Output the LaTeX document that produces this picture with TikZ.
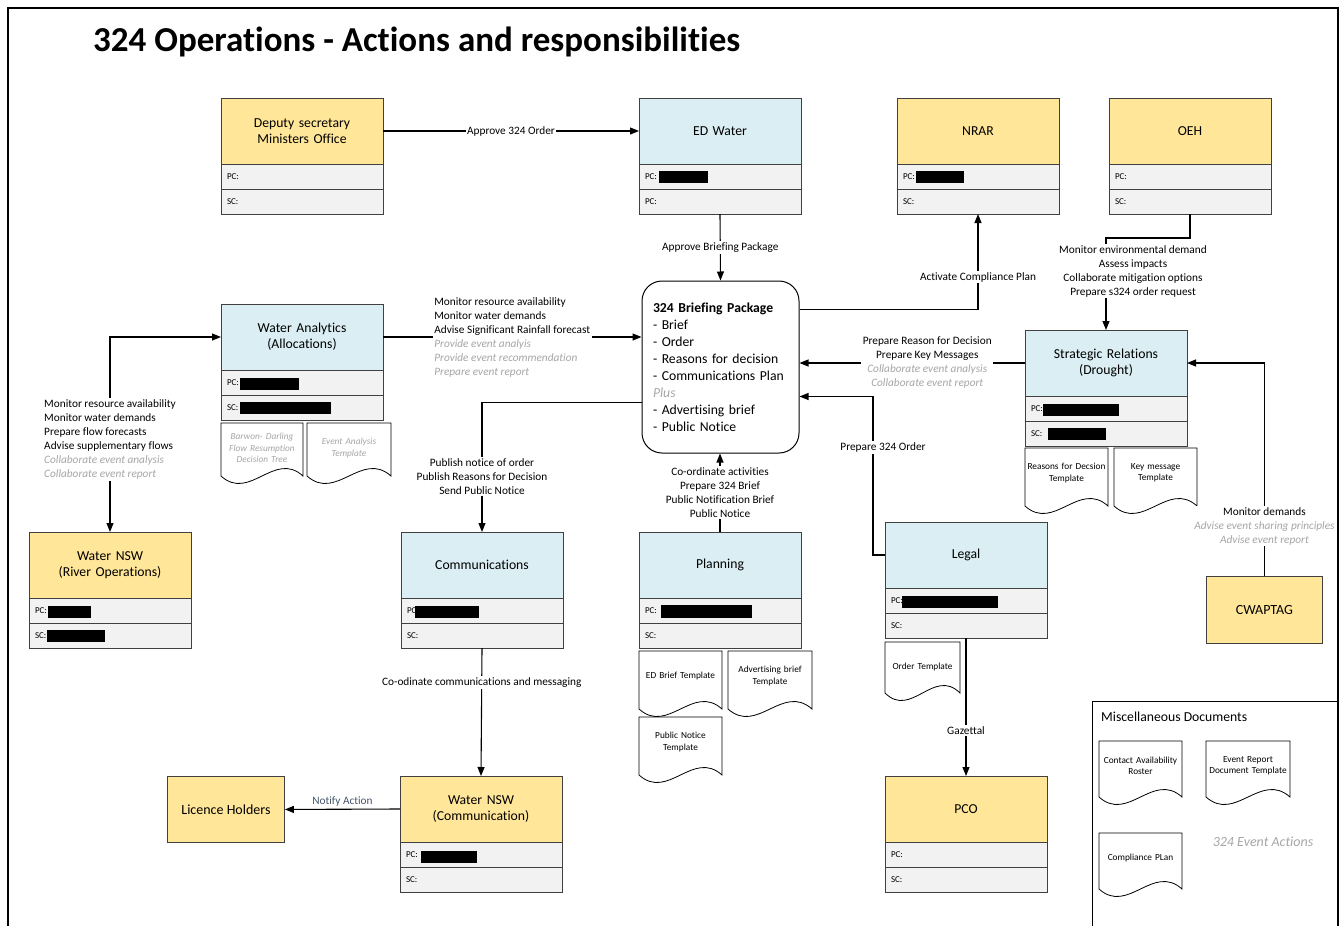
\documentclass[tikz,border=0pt]{standalone}
\usepackage{fontspec}
\setmainfont{Carlito}[Ligatures=NoCommon]
\usetikzlibrary{arrows.meta,positioning}

\definecolor{headyellow}{HTML}{FFE699}
\definecolor{headblue}{HTML}{DAEEF3}
\definecolor{rowgray}{HTML}{F2F2F2}
\definecolor{edgegray}{HTML}{404040}
\definecolor{softgray}{HTML}{A6A6A6}
\definecolor{notecol}{HTML}{44546A}

\newcommand{\soft}[1]{{\color{softgray}\itshape #1}}

\tikzset{
  head/.style={draw=edgegray, line width=0.9pt, outer sep=0pt, inner sep=0pt,
    minimum width=162pt, minimum height=66pt, text width=150pt, align=center,
    font=\fontsize{13.7}{16}\selectfont},
  rowcell/.style={draw=edgegray, fill=rowgray, line width=0.9pt, outer sep=0pt,
    inner xsep=6pt, inner ysep=0pt, minimum width=162pt, minimum height=25pt,
    text width=150pt, align=left, font=\fontsize{9}{10}\selectfont},
  plainbox/.style={draw=edgegray, fill=headyellow, line width=0.9pt, inner sep=0pt,
    minimum height=66pt, align=center, font=\fontsize{14}{16}\selectfont},
  briefbox/.style={draw=black, line width=1pt, rounded corners=20pt, inner sep=0pt,
    minimum width=157pt, minimum height=172pt, text width=135pt, align=left,
    font=\fontsize{13.7}{17}\selectfont},
  arr/.style={line width=1.1pt, -{Triangle[length=9pt,width=7pt]}},
  arrboth/.style={line width=1.1pt, {Triangle[length=9pt,width=7pt]}-{Triangle[length=9pt,width=7pt]}},
  lbl/.style={fill=white, inner sep=1.5pt, align=center, font=\fontsize{11.3}{14}\selectfont},
  docline/.style={draw=black, line width=0.8pt, fill=white},
  doctext/.style={inner sep=0pt, text width=84pt, align=center, font=\fontsize{9.3}{11.5}\selectfont},
  redact/.style={fill=black}
}

% role box: header plus PC / SC rows
\newcommand{\rolebox}[6]{%
  \node[head, fill=#4, anchor=north west] (#1) at (#2,#3) {#5};
  \node[rowcell, anchor=north] (#1-pc) at (#1.south) {PC:};
  \node[rowcell, anchor=north] (#1-sc) at (#1-pc.south) {#6};
}

% document sheet with a wavy foot
\newcommand{\docsheet}[6]{%
  \draw[docline] (#2,#3) -- (#4,#3) -- (#4,#5)
    .. controls ({#4-0.35*(#4-#2)},{#5-26}) and ({#2+0.35*(#4-#2)},{#5+26}) .. (#2,#5) -- cycle;
  \node[doctext] (#1) at ({(#2+#4)/2},{#3+25}) {#6};
}

\begin{document}
\begin{tikzpicture}[x=1pt,y=-1pt]
\useasboundingbox (0,0) rectangle (1344,926);

% frame
\draw[line width=1.3pt] (8,930) -- (8,8) -- (1338,8) -- (1338,930);
\draw[line width=1pt] (1092,930) -- (1092,701) -- (1338,701);

\node[anchor=base west, inner sep=0pt, font=\fontsize{35}{40}\selectfont\bfseries] (title)
  at (93,51) {324 Operations - Actions and responsibilities};

% roles
\rolebox{dep}{221}{98}{headyellow}{Deputy secretary\\Ministers Office}{SC:}
\rolebox{edw}{639}{98}{headblue}{ED Water}{PC:}
\rolebox{nrar}{897}{98}{headyellow}{NRAR}{SC:}
\rolebox{oeh}{1109}{98}{headyellow}{OEH}{SC:}
\rolebox{wa}{221}{304}{headblue}{Water Analytics\\(Allocations)}{SC:}
\rolebox{strat}{1025}{330}{headblue}{Strategic Relations\\(Drought)}{SC:}
\rolebox{wnr}{29}{532}{headyellow}{Water NSW\\(River Operations)}{SC:}
\rolebox{comm}{401}{532}{headblue}{Communications}{SC:}
\rolebox{plan}{639}{532}{headblue}{Planning}{SC:}
\rolebox{legal}{885}{522}{headblue}{Legal}{SC:}
\rolebox{wnc}{400}{776}{headyellow}{Water NSW\\(Communication)}{SC:}
\rolebox{pco}{885}{776}{headyellow}{PCO}{SC:}

\node[plainbox, anchor=north west, minimum width=117pt] (lic) at (167,776) {Licence Holders};
\node[plainbox, anchor=north west, minimum width=116pt, minimum height=67pt] (cwap)
  at (1206,576) {CWAPTAG};

\node[briefbox] (brief) at (720.5,367) {\textbf{324 Briefing Package}\\- Brief\\- Order\\
  - Reasons for decision\\- Communications Plan\\\soft{Plus}\\- Advertising brief\\- Public Notice};

% redacted names
\fill[redact] (659,171) rectangle (708,183);
\fill[redact] (916,171) rectangle (964,183);
\fill[redact] (240,378) rectangle (299,390);
\fill[redact] (240,402) rectangle (331,414);
\fill[redact] (48,606) rectangle (91,618);
\fill[redact] (47,630) rectangle (105,642);
\fill[redact] (1043,404) rectangle (1119,416);
\fill[redact] (1048,428) rectangle (1106,440);
\fill[redact] (415,606) rectangle (479,618);
\fill[redact] (661,605) rectangle (752,618);
\fill[redact] (902,596) rectangle (998,608);
\fill[redact] (421,851) rectangle (477,863);

% templates
\docsheet{bwdt}{221}{423}{303}{476}{\soft{Barwon- Darling\\Flow Resumption\\Decision Tree}}
\docsheet{eat}{307}{423}{391}{476}{\soft{Event Analysis\\Template}}
\docsheet{rfdt}{1025}{448}{1108}{506}{Reasons for Decsion\\Template}
\docsheet{kmt}{1114}{448}{1197}{506}{Key message\\Template}
\docsheet{ordt}{885}{642}{960}{693}{Order Template}
\docsheet{edbt}{639}{651}{722}{709}{ED Brief Template}
\docsheet{adbt}{728}{651}{812}{709}{Advertising brief\\Template}
\docsheet{pnt}{639}{717}{722}{775}{Public Notice\\Template}
\docsheet{car}{1099}{741}{1182}{797}{Contact Availability\\Roster}
\docsheet{erdt}{1206}{741}{1290}{797}{Event Report\\Document Template}
\docsheet{cpl}{1099}{833}{1182}{889}{Compliance PLan}

\node[anchor=base west, inner sep=0pt, font=\fontsize{13.7}{16}\selectfont] (misc)
  at (1101,721) {Miscellaneous Documents};
\node[inner sep=0pt, font=\fontsize{14}{16}\selectfont] (evact)
  at (1263,842) {\soft{324 Event Actions}};

% connectors
\draw[arr] (dep.east) -- node[lbl]{Approve 324 Order} (edw.west);
\draw[arr] (edw-sc.south) -- node[lbl]{Approve Briefing Package} (brief.north);
\draw[arr] ([yshift=-29pt]brief.north east) -| node[lbl, pos=0.67]{Activate Compliance Plan} (nrar-sc.south);
\draw[arr] (oeh-sc.south) -- ++(0,24) -| node[lbl, pos=0.68, xshift=27pt]{Monitor environmental demand\\
  Assess impacts\\Collaborate mitigation options\\Prepare s324 order request} (strat.north);
\draw[arr] (strat.west) -- node[lbl, xshift=15pt]{Prepare Reason for Decision\\Prepare Key Messages\\
  \soft{Collaborate event analysis}\\\soft{Collaborate event report}} (strat.west -| brief.east);
\draw[arr] (legal.west) -- ++(-12,0) |- node[lbl, pos=0.34, xshift=10pt]{Prepare 324 Order}
  ([yshift=-116pt]brief.north east);
\draw[arr] (cwap.north) |- node[lbl, pos=0.117]{Monitor demands\\\soft{Advise event sharing principles}\\
  \soft{Advise event report}} (strat.east);
\draw[arr] (wa.east) -- node[lbl, align=left]{Monitor resource availability\\Monitor water demands\\
  Advise Significant Rainfall forecast\\\soft{Provide event analyis}\\\soft{Provide event recommendation}\\
  \soft{Prepare event report}} (wa.east -| brief.west);
\draw[arrboth] (wnr.north) |- node[lbl, pos=0.238, align=left]{Monitor resource availability\\
  Monitor water demands\\Prepare flow forecasts\\Advise supplementary flows\\
  \soft{Collaborate event analysis}\\\soft{Collaborate event report}} (wa.west);
\draw[arr] ([yshift=-122pt]brief.north west) -| node[lbl, pos=0.787]{Publish notice of order\\
  Publish Reasons for Decision\\Send Public Notice} (comm.north);
\draw[arr] (plan.north) -- node[lbl]{Co-ordinate activities\\Prepare 324 Brief\\
  Public Notification Brief\\Public Notice} (plan.north |- brief.south);
\draw[arr] (comm-sc.south) -- node[lbl, pos=0.27]{Co-odinate communications and messaging} (wnc.north);
\draw[arr] (wnc.west) -- node[above, inner sep=2pt, text=notecol, font=\fontsize{11.3}{13}\selectfont]{Notify Action} (lic.east);
\draw[arr] (legal-sc.south) -- node[lbl, pos=0.67]{Gazettal} (pco.north);
\end{tikzpicture}
\end{document}
